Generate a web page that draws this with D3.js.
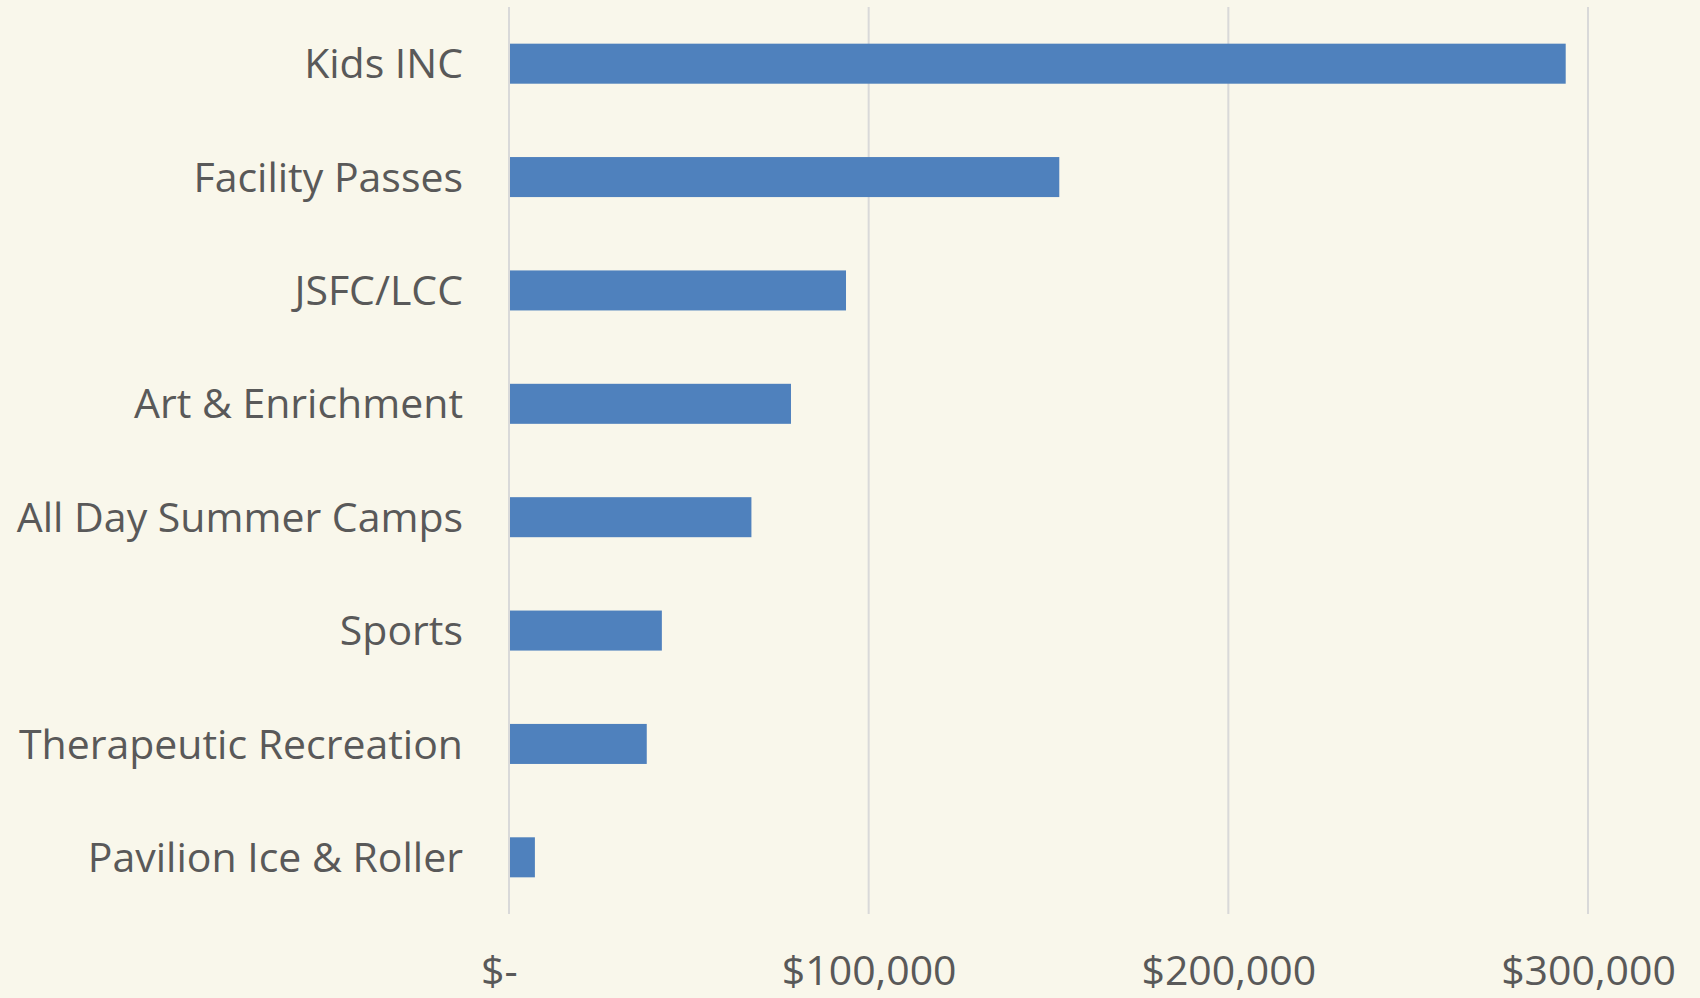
<!DOCTYPE html>
<html>
<head>
<meta charset="utf-8">
<script src="https://cdn.jsdelivr.net/npm/d3@7"></script>
<style>
  html, body { margin: 0; padding: 0; background: #f9f7eb; }
  svg { display: block; }
  .label { font-family: "Open Sans", sans-serif; font-size: 41px; fill: #595959; }
</style>
</head>
<body>
<div id="chart"></div>
<script>
// Chart data
const categories = [
    "Kids INC",
    "Facility Passes",
    "JSFC/LCC",
    "Art & Enrichment",
    "All Day Summer Camps",
    "Sports",
    "Therapeutic Recreation",
    "Pavilion Ice & Roller"
];
const revenue = [293800, 153000, 93700, 78400, 67400, 42500, 38300, 7200];
const xTicks = [0, 100000, 200000, 300000];

// Dimensions
const width = 1700;
const height = 998;
const margin = { top: 7, right: 112, bottom: 84, left: 509 };

const svg = d3.select("#chart")
    .append("svg")
    .attr("width", width)
    .attr("height", height);

svg.append("rect")
    .attr("width", width)
    .attr("height", height)
    .attr("fill", "#f9f7eb");

const x = d3.scaleLinear()
    .domain([0, 300000])
    .range([margin.left, width - margin.right]);

const y = d3.scaleBand()
    .domain(categories)
    .range([margin.top, height - margin.bottom])
    .paddingInner(0.647)
    .paddingOuter(0.3235);

// Vertical gridlines
svg.append("g")
    .selectAll("line")
    .data(xTicks)
    .enter().append("line")
    .attr("x1", d => x(d))
    .attr("x2", d => x(d))
    .attr("y1", margin.top)
    .attr("y2", height - margin.bottom)
    .attr("stroke", "#d9d9d9")
    .attr("stroke-width", 2);

// Bars
svg.append("g")
    .selectAll("rect")
    .data(categories)
    .enter().append("rect")
    .attr("x", x(0) + 1)
    .attr("y", d => y(d))
    .attr("width", (d, i) => x(revenue[i]) - x(0) - 1)
    .attr("height", y.bandwidth())
    .attr("fill", "#4f81bd");

// Category labels
svg.append("g")
    .selectAll("text")
    .data(categories)
    .enter().append("text")
    .attr("class", "label")
    .attr("x", x(0) - 46)
    .attr("y", d => y(d) + y.bandwidth() / 2 + 14.6)
    .attr("text-anchor", "end")
    .text(d => d);

// X axis labels
const xAxis = d3.axisBottom(x)
    .tickValues(xTicks)
    .tickSize(0)
    .tickFormat(d => d === 0 ? "$-\u2002" : d3.format("$,")(d));

const gx = svg.append("g")
    .attr("transform", `translate(0,${height - margin.bottom})`)
    .call(xAxis);

gx.select(".domain").remove();
gx.selectAll("text")
    .attr("class", "label")
    .attr("dy", null)
    .attr("y", 71);
gx.attr("font-family", null).attr("font-size", null);
</script>
</body>
</html>
